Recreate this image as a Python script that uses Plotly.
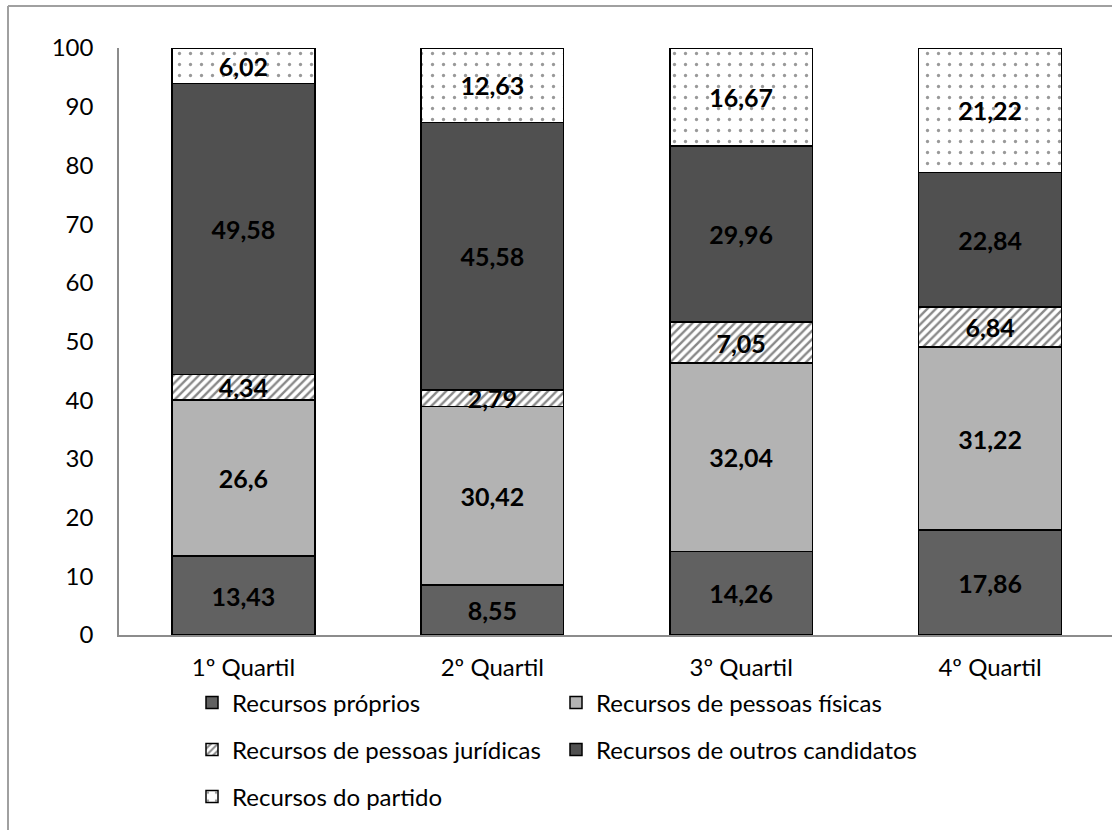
import plotly.graph_objects as go

categories = ["1º Quartil", "2º Quartil", "3º Quartil", "4º Quartil"]
proprios = [13.43, 8.55, 14.26, 17.86]
fisicas = [26.6, 30.42, 32.04, 31.22]
juridicas = [4.34, 2.79, 7.05, 6.84]
outros = [49.58, 45.58, 29.96, 22.84]
partido = [6.02, 12.63, 16.67, 21.22]
y_ticks = [0, 10, 20, 30, 40, 50, 60, 70, 80, 90, 100]

FONT = "Lato"
W, H = 1112, 830
ML, MR, MT, MB = 119, 0, 48, 195
PW = W - ML - MR
PH = H - MT - MB


def px_x(p):
    return (p - ML) / PW


def px_y(p):
    return (H - MB - p) / PH


def lab(vals):
    return [("%g" % v).replace(".", ",") for v in vals]


series = [
    ("Recursos próprios", proprios, dict(color="#616161"), "legend", (192, 703)),
    ("Recursos de pessoas físicas", fisicas, dict(color="#b3b3b3"), "legend2", (556, 703)),
    ("Recursos de pessoas jurídicas", juridicas,
     dict(color="white", pattern=dict(shape="/", fgcolor="#111111", bgcolor="white",
                                      size=6, solidity=0.4)), "legend3", (192, 750)),
    ("Recursos de outros candidatos", outros, dict(color="#505050"), "legend4", (556, 750)),
    ("Recursos do partido", partido,
     dict(color="white", pattern=dict(shape=".", fgcolor="#333333", bgcolor="white",
                                      size=11, solidity=0.07)), "legend5", (192, 797)),
]

fig = go.Figure()
layout_legends = {}
for name, vals, marker, lg, (lx, ly) in series:
    m = dict(marker)
    m["line"] = dict(color="black", width=1.5)
    fig.add_trace(go.Bar(
        x=categories, y=vals, name=name, marker=m,
        text=lab(vals), textposition="inside", insidetextanchor="middle",
        constraintext="none",
        textfont=dict(family=FONT, size=25, color="black", weight="bold"),
        legend=lg, showlegend=True,
    ))
    layout_legends[lg] = dict(
        x=px_x(lx), y=px_y(ly), xanchor="left", yanchor="middle",
        xref="paper", yref="paper", bgcolor="rgba(0,0,0,0)",
        font=dict(family=FONT, size=24, color="black"),
        orientation="h",
    )

fig.update_layout(
    width=W, height=H,
    showlegend=True,
    margin=dict(l=ML, r=MR, t=MT, b=MB),
    barmode="stack", bargap=0.426,
    plot_bgcolor="white", paper_bgcolor="white",
    font=dict(family=FONT, size=24, color="black"),
    xaxis=dict(range=[-0.5, 3.49], showline=True, linecolor="#8c8c8c", linewidth=1.5,
               showgrid=False, ticks="", tickfont=dict(family=FONT, size=24, color="black"),
               ticklabelstandoff=10),
    yaxis=dict(range=[0, 100], tickvals=y_ticks, showline=True, linecolor="#8c8c8c",
               linewidth=1.5, showgrid=False, zeroline=False, ticks="",
               tickfont=dict(family=FONT, size=24, color="black"),
               ticklabelstandoff=19),
    shapes=[
        dict(type="line", xref="paper", yref="paper", x0=px_x(8), x1=px_x(W + 5),
             y0=px_y(6), y1=px_y(6), line=dict(color="#a0a0a0", width=2)),
        dict(type="line", xref="paper", yref="paper", x0=px_x(8), x1=px_x(8),
             y0=px_y(6), y1=px_y(H + 5), line=dict(color="#a0a0a0", width=2)),
    ],
    **layout_legends,
)

fig.write_html("out.html")
